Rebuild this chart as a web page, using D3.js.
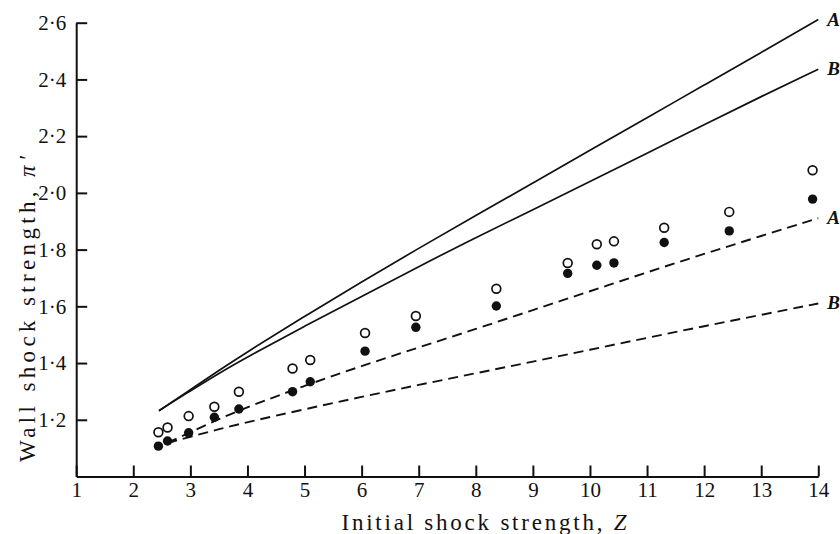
<!DOCTYPE html>
<html>
<head>
<meta charset="utf-8">
<script src="https://cdn.jsdelivr.net/npm/d3@7"></script>
<style>
  body { margin: 0; background: #fff; }
  svg { display: block; font-family: "Liberation Serif", "Times New Roman", serif; }
  .axis path, .axis line { stroke: #111; stroke-width: 2; }
  .axis text { font-size: 21px; fill: #111; font-family: "Liberation Serif", serif; }
</style>
</head>
<body>
<div id="chart"></div>
<script>
// measured points (Z, wall shock strength)
const zValues = [2.44, 2.6, 2.97, 3.42, 3.85, 4.79, 5.1, 6.06, 6.95, 8.36, 9.61, 10.12, 10.42, 11.3, 12.44, 13.9];
const openValues = [1.156, 1.173, 1.213, 1.246, 1.299, 1.381, 1.411, 1.506, 1.566, 1.662, 1.753, 1.819, 1.829, 1.877, 1.933, 2.080];
const filledValues = [1.107, 1.125, 1.154, 1.209, 1.238, 1.299, 1.334, 1.442, 1.526, 1.601, 1.716, 1.745, 1.753, 1.825, 1.866, 1.978];

// theory curves
const solidZ = [2.45, 3, 3.5, 4, 5, 6, 7, 8, 9, 10, 11, 12, 13, 14];
const solidA = [1.232, 1.306, 1.374, 1.44, 1.565, 1.686, 1.805, 1.92, 2.035, 2.15, 2.265, 2.38, 2.495, 2.611];
const solidB = [1.232, 1.302, 1.364, 1.422, 1.53, 1.635, 1.74, 1.843, 1.94, 2.04, 2.14, 2.24, 2.34, 2.436];

const dashedZ = [2.6, 3, 3.5, 4, 5, 6, 7, 8, 9, 10, 11, 12, 13, 14];
const dashedA = [1.12, 1.155, 1.203, 1.245, 1.32, 1.39, 1.455, 1.52, 1.587, 1.653, 1.72, 1.785, 1.848, 1.911];
const dashedB = [1.118, 1.14, 1.167, 1.192, 1.237, 1.281, 1.323, 1.364, 1.405, 1.447, 1.489, 1.53, 1.57, 1.61];

const xTicks = d3.range(1, 15);
const yTicks = [1.2, 1.4, 1.6, 1.8, 2.0, 2.2, 2.4, 2.6];

const curves = [
    { z: solidZ, v: solidA, label: "A", dashed: false },
    { z: solidZ, v: solidB, label: "B", dashed: false },
    { z: dashedZ, v: dashedA, label: "A", dashed: true },
    { z: dashedZ, v: dashedB, label: "B", dashed: true }
];

drawChart();

function drawChart() {
    const width = 840, height = 534;

    const svg = d3.select("#chart").append("svg")
        .attr("width", width)
        .attr("height", height);

    const x = d3.scaleLinear().domain([1, 14]).range([76.2, 818.3]);
    const y = d3.scaleLinear().domain([1, 2.6]).range([476.5, 22.7]);

    const fmt = d => d3.format(".1f")(d).replace(".", "\u00B7");

    svg.append("g")
        .attr("class", "axis")
        .attr("transform", `translate(0,${y(1)})`)
        .call(d3.axisBottom(x).tickValues(xTicks).tickSize(-11).tickSizeOuter(0).tickPadding(6).tickFormat(d3.format("d")));

    svg.append("g")
        .attr("class", "axis")
        .attr("transform", `translate(${x(1)},0)`)
        .call(d3.axisLeft(y).tickValues(yTicks).tickSize(-11).tickSizeOuter(0).tickPadding(10).tickFormat(fmt));

    const line = d3.line()
        .x(d => x(d[0]))
        .y(d => y(d[1]))
        .curve(d3.curveBasis);

    curves.forEach(c => {
        const pts = c.z.map((z, i) => [z, c.v[i]]);
        svg.append("path")
            .datum(pts)
            .attr("d", line)
            .attr("fill", "none")
            .attr("stroke", "#111")
            .attr("stroke-width", c.dashed ? 1.9 : 1.7)
            .attr("stroke-dasharray", c.dashed ? "10,6" : null);

        const last = pts[pts.length - 1];
        svg.append("text")
            .attr("x", x(last[0]) + 9)
            .attr("y", y(last[1]) + 6)
            .attr("font-size", 19)
            .attr("font-style", "italic")
            .attr("font-weight", "bold")
            .attr("fill", "#111")
            .text(c.label);
    });

    svg.selectAll("circle.filled")
        .data(zValues)
        .enter().append("circle")
        .attr("class", "filled")
        .attr("cx", d => x(d))
        .attr("cy", (d, i) => y(filledValues[i]))
        .attr("r", 4.7)
        .attr("fill", "#111");

    svg.selectAll("circle.open")
        .data(zValues)
        .enter().append("circle")
        .attr("class", "open")
        .attr("cx", d => x(d))
        .attr("cy", (d, i) => y(openValues[i]))
        .attr("r", 4.4)
        .attr("fill", "#fff")
        .attr("stroke", "#111")
        .attr("stroke-width", 1.7);

    svg.append("text")
        .attr("x", 484)
        .attr("y", 530)
        .attr("text-anchor", "middle")
        .attr("font-size", 23)
        .attr("textLength", 285)
        .attr("lengthAdjust", "spacing")
        .attr("fill", "#111")
        .text("Initial shock strength, ")
        .append("tspan")
        .attr("font-style", "italic")
        .text("Z");

    svg.append("text")
        .attr("transform", "translate(35,309) rotate(-90)")
        .attr("text-anchor", "middle")
        .attr("font-size", 23)
        .attr("textLength", 306)
        .attr("lengthAdjust", "spacing")
        .attr("fill", "#111")
        .text("Wall shock strength, ")
        .append("tspan")
        .attr("font-style", "italic")
        .text("\u03C0\u2032");
}
</script>
</body>
</html>
